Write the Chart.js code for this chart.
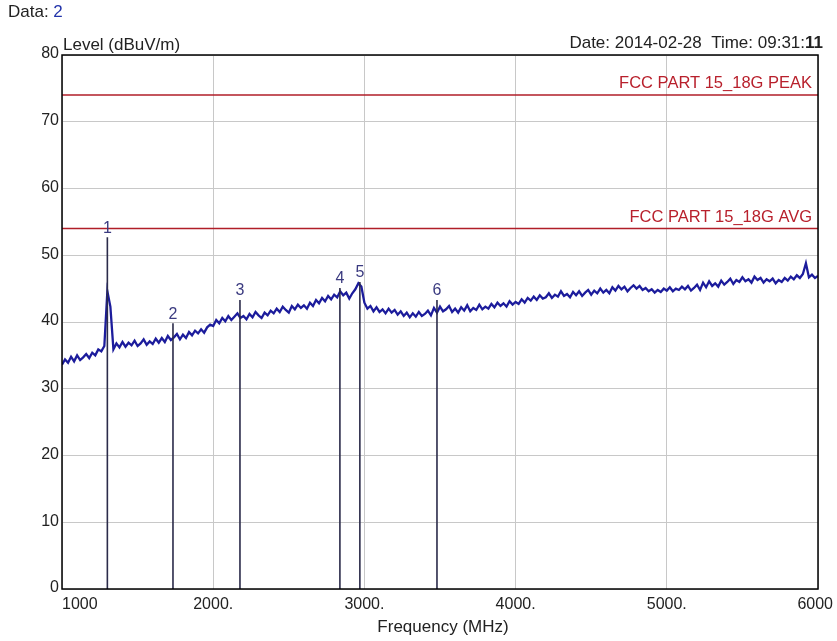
<!DOCTYPE html>
<html>
    <head>
        <meta charset="utf-8">
        <title>EMI Scan</title>
        <script src="https://cdn.jsdelivr.net/npm/chart.js@4.4.1/dist/chart.umd.min.js"></script>
        <style>
            body { margin: 0; background: #fff; }
            #myChart { display: block; }
        </style>
    </head>
    <body>
        <canvas id="myChart" width="837" height="641"></canvas>

        <script>
        // sweep grid: 1000 - 6000 MHz, one reading every 20 MHz
        const freqStart = 1000;
        const freqStep = 20;

        // measured level (dBuV/m), 10 readings per 200 MHz
        const levels = [
            33.6, 34.4, 33.9, 34.8, 34.1, 35.0, 34.3, 34.7, 35.2, 34.6,
            35.4, 35.0, 35.9, 35.6, 36.4, 44.6, 42.3, 35.9, 36.8, 36.2,
            37.0, 36.3, 36.9, 36.5, 37.2, 36.4, 36.8, 37.4, 36.6, 37.1,
            36.7, 37.5, 36.9, 37.6, 37.0, 37.9, 37.3, 37.7, 38.2, 37.4,
            38.1, 37.6, 38.5, 38.0, 38.7, 38.3, 38.9, 38.4, 39.2, 39.6,
            39.4, 40.3, 39.8, 40.6, 40.1, 40.9, 40.3, 40.8, 41.3, 40.6,
            40.9, 40.4, 41.2, 40.7, 41.5, 41.0, 40.6, 41.4, 41.0, 41.7,
            41.3, 42.0, 41.5, 42.3, 41.8, 41.4, 42.4, 41.9, 42.6, 42.1,
            42.5, 42.0, 42.9, 42.4, 43.3, 42.8, 43.6, 43.1, 43.9, 43.4,
            44.1, 43.7, 44.6, 44.0, 44.4, 43.5, 44.3, 44.9, 45.8, 45.3,
            42.9, 42.0, 42.4, 41.6, 42.2, 41.5, 41.9, 41.3, 42.0, 41.4,
            41.8, 41.1, 41.6, 40.9, 41.4, 40.7, 41.3, 40.8, 41.5, 40.9,
            41.2, 41.7, 41.0, 42.1, 41.4, 42.3, 41.6, 41.9, 42.4, 41.5,
            42.0, 41.4, 42.2, 41.7, 42.5, 41.6, 42.1, 41.8, 42.6, 41.9,
            42.3, 42.0, 42.7, 42.2, 42.9, 42.4, 42.8, 42.3, 43.1, 42.6,
            43.0, 42.7, 43.4, 42.9, 43.6, 43.2, 43.8, 43.3, 44.0, 43.5,
            43.7, 44.3, 43.6, 44.1, 43.8, 44.6, 43.9, 44.2, 43.7, 44.5,
            44.0, 44.6, 43.9, 44.4, 44.8, 44.1, 44.7, 44.3, 45.0, 44.4,
            44.8, 44.3, 45.2, 44.7, 45.4, 44.9, 45.3, 44.6, 45.1, 45.5,
            45.0, 45.4, 44.8, 45.1, 44.6, 44.9, 44.4, 44.8, 44.5, 45.0,
            44.7, 45.2, 44.6, 45.0, 44.8, 45.3, 44.9, 45.4, 44.7, 45.1,
            45.6, 44.8, 45.9, 45.2, 46.1, 45.4, 45.8, 45.3, 46.2, 45.6,
            46.0, 46.5, 45.7, 46.3, 46.0, 46.7, 46.1, 46.4, 45.9, 46.8,
            46.3, 46.6, 45.9, 46.4, 46.1, 46.5, 45.8, 46.3, 46.0, 46.6,
            46.2, 46.8, 46.4, 47.0, 46.6, 47.2, 48.8, 46.7, 47.1, 46.6,
            46.9
        ];

        // marker readings
        const markerNames = ['1', '2', '3', '4', '5', '6'];
        const markerFreqs = [1300, 1734, 2177, 2838, 2970, 3480];
        const markerLevels = [52.7, 39.8, 43.3, 45.1, 46.0, 43.3];

        // limit lines
        const limitNames = ['FCC PART 15_18G PEAK', 'FCC PART 15_18G AVG'];
        const limitLevels = [74, 54];

        const xTicks = [1000, 2000, 3000, 4000, 5000, 6000];
        const xTickLabels = ['1000', '2000.', '3000.', '4000.', '5000.', '6000'];
        const yTicks = [0, 10, 20, 30, 40, 50, 60, 70, 80];

        const FONT = "'Liberation Sans', Arial, sans-serif";

        var trace = [];
        for (var i = 0; i < levels.length; i++) {
            trace.push({x: freqStart + i * freqStep, y: levels[i]});
        }

        var markerLines = [];
        for (var m = 0; m < markerFreqs.length; m++) {
            markerLines.push({x: markerFreqs[m], y: 0});
            markerLines.push({x: markerFreqs[m], y: markerLevels[m]});
            markerLines.push({x: markerFreqs[m], y: null});
        }

        var datasets = [];
        for (var l = 0; l < limitLevels.length; l++) {
            datasets.push({
                label: limitNames[l],
                data: [{x: 1000, y: limitLevels[l]}, {x: 6000, y: limitLevels[l]}],
                borderColor: '#b01e28',
                borderWidth: 1.5,
                pointRadius: 0
            });
        }
        datasets.push({
            label: 'markers',
            data: markerLines,
            borderColor: '#2b2b4a',
            borderWidth: 1.6,
            pointRadius: 0,
            spanGaps: false
        });
        datasets.push({
            label: 'level',
            data: trace,
            borderColor: '#1c1c9c',
            borderWidth: 2.3,
            pointRadius: 0,
            tension: 0
        });

        // texts, tick labels and frame drawn on top
        const decorations = {
            id: 'decorations',
            afterDraw: function (chart) {
                var ctx = chart.ctx;
                var xs = chart.scales.x, ys = chart.scales.y;
                var a = chart.chartArea;
                ctx.save();

                // frame
                ctx.strokeStyle = '#000';
                ctx.lineWidth = 1.5;
                ctx.strokeRect(a.left, a.top, a.right - a.left, a.bottom - a.top);

                // y tick labels
                ctx.fillStyle = '#222';
                ctx.font = '16px ' + FONT;
                ctx.textAlign = 'right';
                ctx.textBaseline = 'middle';
                yTicks.forEach(function (v) {
                    ctx.fillText(String(v), a.left - 3, ys.getPixelForValue(v) - 1);
                });

                // x tick labels
                ctx.textBaseline = 'top';
                xTicks.forEach(function (v, k) {
                    var px = xs.getPixelForValue(v);
                    if (k === 0) { ctx.textAlign = 'left'; }
                    else if (k === xTicks.length - 1) { ctx.textAlign = 'right'; px += 15; }
                    else { ctx.textAlign = 'center'; }
                    ctx.fillText(xTickLabels[k], px, a.bottom + 8);
                });

                // axis titles
                ctx.font = '17px ' + FONT;
                ctx.textAlign = 'center';
                ctx.fillText('Frequency (MHz)', (a.left + a.right) / 2 + 3, a.bottom + 30);
                ctx.textAlign = 'left';
                ctx.textBaseline = 'bottom';
                ctx.fillText('Level (dBuV/m)', a.left + 1, a.top - 1);

                // header
                ctx.font = '17px ' + FONT;
                ctx.textBaseline = 'middle';
                ctx.fillStyle = '#222';
                ctx.fillText('Data: ', 8, 12);
                var w = ctx.measureText('Data: ').width;
                ctx.fillStyle = '#2233aa';
                ctx.fillText('2', 8 + w, 12);

                ctx.fillStyle = '#222';
                ctx.textAlign = 'right';
                ctx.textBaseline = 'bottom';
                ctx.font = 'bold 17px ' + FONT;
                var sec = '11';
                var sw = ctx.measureText(sec).width;
                ctx.fillText(sec, a.right + 5, a.top - 3);
                ctx.font = '17px ' + FONT;
                ctx.fillText('Date: 2014-02-28  Time: 09:31:', a.right + 5 - sw, a.top - 3);

                // limit labels
                ctx.fillStyle = '#b8202c';
                ctx.font = '16.5px ' + FONT;
                limitLevels.forEach(function (v, k) {
                    ctx.fillText(limitNames[k], a.right - 6, ys.getPixelForValue(v) - 3);
                });

                // marker numbers
                ctx.fillStyle = '#3b3b80';
                ctx.font = '16px ' + FONT;
                ctx.textAlign = 'center';
                markerFreqs.forEach(function (f, k) {
                    ctx.fillText(markerNames[k], xs.getPixelForValue(f), ys.getPixelForValue(markerLevels[k]) - 1);
                });

                ctx.restore();
            }
        };

        const ctx = document.getElementById('myChart').getContext('2d');
        let myChart = new Chart(ctx, {
            type: 'line',
            data: { datasets: datasets },
            options: {
                responsive: false,
                animation: false,
                layout: { padding: { left: 62, right: 19, top: 55, bottom: 52 } },
                plugins: {
                    legend: { display: false },
                    tooltip: { enabled: false }
                },
                scales: {
                    x: {
                        type: 'linear',
                        min: 1000,
                        max: 6000,
                        afterBuildTicks: function (axis) {
                            axis.ticks = xTicks.map(function (v) { return {value: v}; });
                        },
                        ticks: { display: false },
                        grid: { color: '#c8c8c8', lineWidth: 1, drawTicks: false },
                        border: { display: false }
                    },
                    y: {
                        min: 0,
                        max: 80,
                        afterBuildTicks: function (axis) {
                            axis.ticks = yTicks.map(function (v) { return {value: v}; });
                        },
                        ticks: { display: false },
                        grid: { color: '#c8c8c8', lineWidth: 1, drawTicks: false },
                        border: { display: false }
                    }
                }
            },
            plugins: [decorations]
        });
        </script>
    </body>
</html>
